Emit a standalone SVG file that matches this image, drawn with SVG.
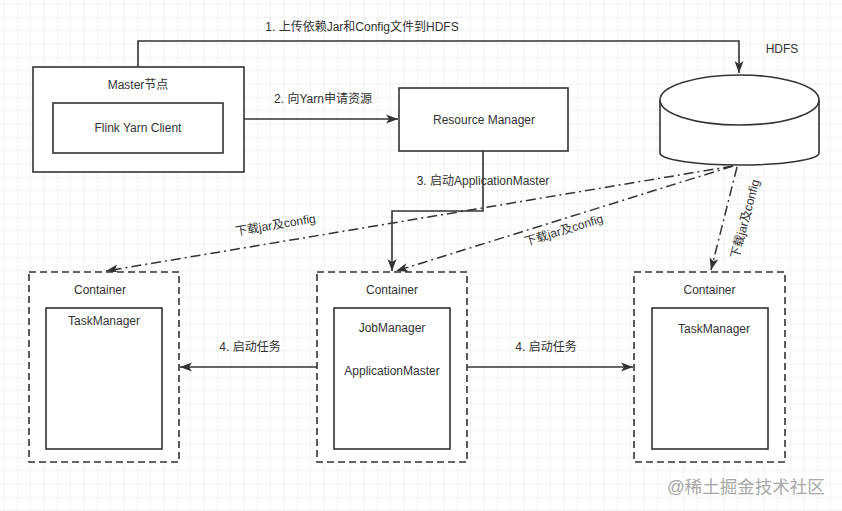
<svg xmlns="http://www.w3.org/2000/svg" width="842" height="511" viewBox="0 0 842 511">
<defs>
<pattern id="grid" x="3.5" y="3.5" width="13.333" height="13.333" patternUnits="userSpaceOnUse">
<path d="M0,0 H13.333 M0,0 V13.333" fill="none" stroke="#e6e6e6" stroke-width="1"/>
</pattern>
<marker id="arr" markerUnits="userSpaceOnUse" markerWidth="14" markerHeight="12" refX="12" refY="5" orient="auto" viewBox="0 0 14 10">
<path d="M0,0.5 L12,5 L0,9.5 L3,5 Z" fill="#333"/>
</marker>
<style>
.t{font-family:"Liberation Sans","Noto Sans CJK SC",sans-serif;font-size:12px;fill:#333;text-anchor:middle}
.box{fill:#fff;stroke:#333;stroke-width:1.6}
.dbox{fill:#fff;stroke:#333;stroke-width:1.6;stroke-dasharray:7 4}
.ln{fill:none;stroke:#333;stroke-width:1.6}
.dd{fill:none;stroke:#333;stroke-width:1.5;stroke-dasharray:10 4 2 4}
</style>
</defs>
<rect width="842" height="511" fill="#fff"/>
<rect width="842" height="511" fill="url(#grid)"/>

<g id="connectors">
<path class="ln" d="M138,67 V41 H739 V73" marker-end="url(#arr)"/>
<path class="ln" d="M244,119 H398" marker-end="url(#arr)"/>
<path class="ln" d="M483,151 V211 H392 V271" marker-end="url(#arr)"/>
<path class="ln" d="M317,367 H180" marker-end="url(#arr)"/>
<path class="ln" d="M467,367 H633" marker-end="url(#arr)"/>
<path class="dd" d="M733,166 L106,271" marker-end="url(#arr)"/>
<path class="dd" d="M733,166 L396,271" marker-end="url(#arr)"/>
<path class="dd" d="M737,167 L711,270" marker-end="url(#arr)"/>
<text class="t" x="362" y="31">1. 上传依赖Jar和Config文件到HDFS</text>
<text class="t" x="323" y="103">2. 向Yarn申请资源</text>
<text class="t" x="483" y="185">3. 启动ApplicationMaster</text>
<text class="t" x="250" y="351">4. 启动任务</text>
<text class="t" x="546" y="351">4. 启动任务</text>
<text class="t" transform="translate(276,229) rotate(-9.5)">下载jar及config</text>
<text class="t" transform="translate(565,234) rotate(-17)">下载jar及config</text>
<text class="t" transform="translate(749,220) rotate(-75)">下载jar及config</text>
</g>

<g id="master">
<rect class="box" x="33" y="67" width="211" height="105" stroke-width="2"/>
<text class="t" x="138" y="89">Master节点</text>
</g>
<g id="flink-client">
<rect class="box" x="53" y="103" width="170" height="50"/>
<text class="t" x="138" y="132">Flink Yarn Client</text>
</g>
<g id="resource-manager">
<rect class="box" x="399" y="88" width="169" height="63"/>
<text class="t" x="484" y="124">Resource Manager</text>
</g>
<g id="hdfs">
<path class="box" d="M660,100 V153 A79.5,12 0 0,0 819,153 V100"/>
<ellipse class="box" cx="739.5" cy="100" rx="79.5" ry="25"/>
<text class="t" x="782" y="53">HDFS</text>
</g>

<g id="container-left">
<rect class="dbox" x="29" y="272" width="150" height="190"/>
<text class="t" x="100" y="294">Container</text>
<rect class="box" x="46" y="308" width="116" height="141"/>
<text class="t" x="104" y="325">TaskManager</text>
</g>
<g id="container-middle">
<rect class="dbox" x="317" y="272" width="150" height="190"/>
<text class="t" x="392" y="294">Container</text>
<rect class="box" x="334" y="308" width="116" height="141"/>
<text class="t" x="392" y="332">JobManager</text>
<text class="t" x="392" y="375">ApplicationMaster</text>
</g>
<g id="container-right">
<rect class="dbox" x="634" y="272" width="151" height="190"/>
<text class="t" x="709.5" y="294">Container</text>
<rect class="box" x="652" y="308" width="116" height="141"/>
<text class="t" x="714" y="333">TaskManager</text>
</g>

<text x="746" y="493" style="font-family:'Liberation Sans','Noto Sans CJK SC',sans-serif;font-size:17.5px;fill:#a8a8a8;text-anchor:middle">@稀土掘金技术社区</text>
</svg>
